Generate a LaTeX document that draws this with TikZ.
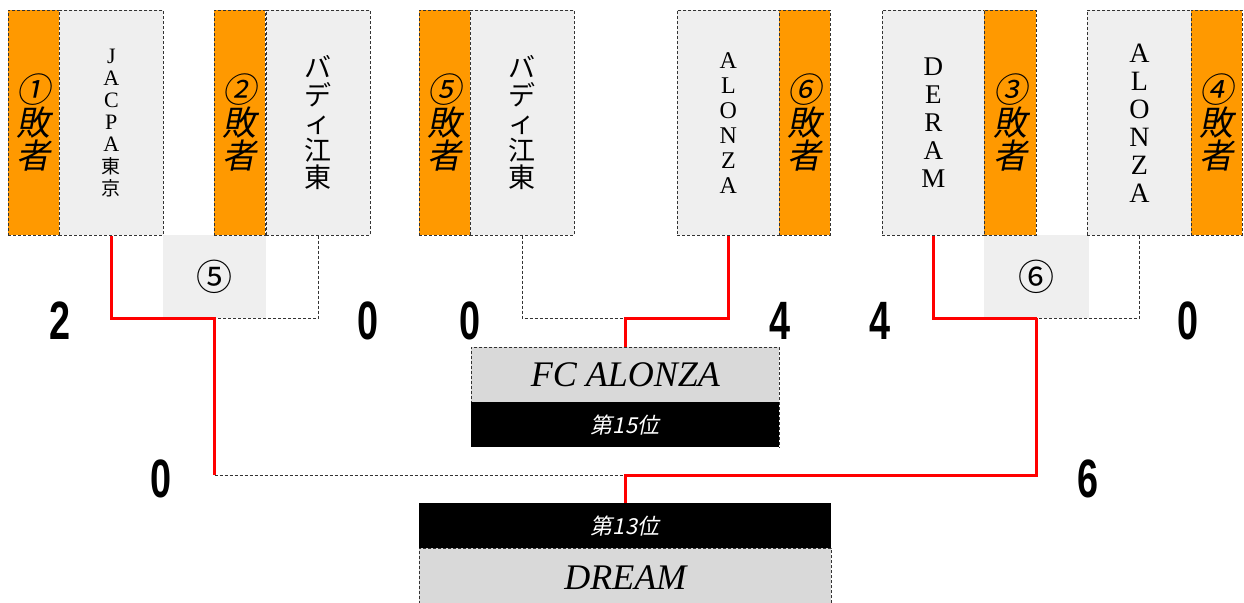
\documentclass[tikz,border=0pt]{standalone}
\usepackage{fontspec}
\setmainfont{Liberation Serif}
\newfontfamily\jp{Noto Sans CJK JP}
\newfontfamily\jpit[FakeSlant=0.2]{Noto Sans CJK JP}
\newfontfamily\scorefont[FakeStretch=0.7]{Liberation Sans}
\usetikzlibrary{calc}
\definecolor{loserorange}{rgb}{1.0, 0.6, 0.0}
\definecolor{teamgrey}{rgb}{0.937, 0.937, 0.937}
\definecolor{rankgrey}{rgb}{0.851, 0.851, 0.851}
\definecolor{winred}{rgb}{1.0, 0.0, 0.0}
\newcommand{\kanji}[1]{{\jp\fontsize{19}{22}\selectfont #1}}

\begin{document}
\begin{tikzpicture}[x=1pt,y=-1pt,line join=miter,
    box/.style={draw=black!80,densely dashed,line width=0.7pt,inner sep=0pt,anchor=north west},
    loser/.style={box,fill=loserorange,minimum width=51pt,minimum height=225pt,align=center,font=\jpit\fontsize{34}{33}\selectfont},
    team/.style={box,fill=teamgrey,minimum width=104pt,minimum height=225pt,align=center},
    latin/.style={font=\fontsize{25}{27}\selectfont},
    kana/.style={font=\jp\fontsize{27}{27.5}\selectfont},
    match/.style={fill=teamgrey,inner sep=0pt,anchor=north west,minimum width=103pt,minimum height=83pt,font=\jp\fontsize{36}{36}\selectfont},
    rank/.style={box,fill=rankgrey,minimum width=308pt,minimum height=55pt,font=\itshape\fontsize{36}{36}\selectfont},
    band/.style={fill=black,text=white,inner sep=0pt,anchor=north west,minimum width=308pt,minimum height=45pt,font=\jpit\fontsize{22}{22}\selectfont},
    score/.style={font=\scorefont\bfseries\fontsize{54}{54}\selectfont,inner sep=0pt},
    won/.style={winred,line width=3pt},
    lost/.style={black!80,densely dashed,line width=0.7pt}]
    \useasboundingbox (0,0) rectangle (1244,602);
    % matches 5 and 6 (drawn first, under the boxes)
    \node[match] (m5) at (163,235) {⑤};
    \node[match,minimum width=105pt] (m6) at (984,235) {⑥};
    % left pair
    \node[loser] (l1) at (8,10) {①\\敗\\者};
    \node[team,font=\fontsize{22}{22}\selectfont] (t1) at (59,10) {J\\A\\C\\P\\A\\\kanji{東}\\\kanji{京}};
    \node[loser] (l2) at (214,10) {②\\敗\\者};
    \node[team,kana] (t2) at (266,10) {バ\\デ\\ィ\\江\\東};
    % middle pair
    \node[loser] (l5) at (419,10) {⑤\\敗\\者};
    \node[team,kana] (t3) at (470,10) {バ\\デ\\ィ\\江\\東};
    \node[team,latin,font=\fontsize{24}{25}\selectfont,minimum width=102pt] (t4) at (677,10) {A\\L\\O\\N\\Z\\A};
    \node[loser] (l6) at (779,10) {⑥\\敗\\者};
    % right pair
    \node[team,latin,font=\fontsize{27}{28}\selectfont,minimum width=102pt] (t5) at (882,10) {D\\E\\R\\A\\M};
    \node[loser,minimum width=52pt] (l3) at (984,10) {③\\敗\\者};
    \node[team,latin,font=\fontsize{28}{28}\selectfont] (t6) at (1087,10) {A\\L\\O\\N\\Z\\A};
    \node[loser] (l4) at (1191,10) {④\\敗\\者};
    % places
    \node[rank] (r15) at (471,347) {FC ALONZA};
    \node[band] (b15) at (471,402) {第15位};
    \draw[lost] (b15.north east) -- (b15.south east);
    \node[band,minimum width=412pt] (b13) at (419,503) {第13位};
    \node[rank,minimum width=412pt,minimum height=58pt] (r13) at (419,548) {DREAM};
    % junctions
    \coordinate (j2) at (r15.north |- m5.south);
    \coordinate (j4) at (b13.north |- 0,475);
    % brackets
    \draw[lost] (t2.south) |- (m5.south);
    \draw[won] (t1.south) |- (m5.south) -- (m5.south |- j4);
    \draw[lost] (t3.south) |- (j2);
    \draw[won] (t4.south) |- (j2) -- (r15.north);
    \draw[lost] (t6.south) |- (m6.south);
    \draw[won] (t5.south) |- (m6.south);
    \draw[lost] (m5.south |- j4) -- (j4);
    \draw[won] (m6.south) -- (m6.south |- j4) -| (b13.north);
    % scores
    \node[score] (s1) at (60,321) {2};
    \node[score] (s2) at (368,321) {0};
    \node[score] (s3) at (470,321) {0};
    \node[score] (s4) at (780,321) {4};
    \node[score] (s5) at (880,321) {4};
    \node[score] (s6) at (1188,321) {0};
    \node[score] (s7) at (161,479) {0};
    \node[score] (s8) at (1088,479) {6};
\end{tikzpicture}
\end{document}
